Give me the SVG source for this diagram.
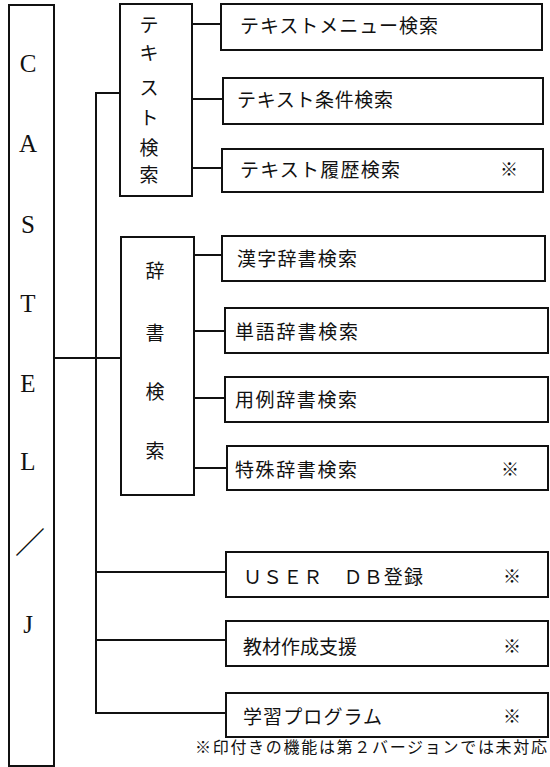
<svg xmlns="http://www.w3.org/2000/svg" width="550" height="767" viewBox="0 0 550 767">
<style>
rect{fill:#fff;stroke:#111;stroke-width:2}
.c line{stroke:#111;stroke-width:2}
.t{font-family:"Noto Sans CJK JP","Noto Sans CJK SC",sans-serif;font-size:19px;fill:#111;dominant-baseline:central}
.v{font-family:"Noto Sans CJK JP","Noto Sans CJK SC",sans-serif;font-size:19px;fill:#111;dominant-baseline:central;text-anchor:middle}
.L{font-family:"Liberation Serif",serif;font-size:25px;fill:#111;text-anchor:middle}
.m{font-family:"Noto Sans CJK JP",sans-serif;font-size:18px;fill:#111;dominant-baseline:central;text-anchor:middle}
.f{font-family:"Noto Sans CJK JP","Noto Sans CJK SC",sans-serif;font-size:16px;fill:#111;dominant-baseline:central}
</style>
<rect width="550" height="767" style="fill:#fff;stroke:none"/>
<g class="c" id="connectors">
<line x1="96" y1="92" x2="96" y2="714"/>
<line x1="95" y1="93" x2="120" y2="93"/>
<line x1="55" y1="358" x2="121" y2="358"/>
<line x1="95" y1="572" x2="226" y2="572"/>
<line x1="95" y1="640" x2="226" y2="640"/>
<line x1="95" y1="713" x2="226" y2="713"/>
<line x1="192" y1="24" x2="221" y2="24"/>
<line x1="192" y1="99" x2="223" y2="99"/>
<line x1="192" y1="168" x2="222" y2="168"/>
<line x1="194" y1="255" x2="222" y2="255"/>
<line x1="194" y1="331" x2="225" y2="331"/>
<line x1="194" y1="398" x2="225" y2="398"/>
<line x1="194" y1="468" x2="227" y2="468"/>
</g>
<g id="castel">
<rect x="9" y="5" width="45" height="761"/>
<text class="L" x="28" y="72">C</text>
<text class="L" x="28" y="152">A</text>
<text class="L" x="28" y="233">S</text>
<text class="L" x="28" y="312">T</text>
<text class="L" x="28" y="392">E</text>
<text class="L" x="28" y="470">L</text>
<text class="v" x="30" y="540" style="font-size:30px">／</text>
<text class="L" x="28" y="633">J</text>
</g>
<g id="text-search">
<rect x="120" y="4" width="72" height="192"/>
<text class="v" x="149" y="23">テ</text>
<text class="v" x="149" y="51">キ</text>
<text class="v" x="149" y="86">ス</text>
<text class="v" x="149" y="116">ト</text>
<text class="v" x="149" y="146">検</text>
<text class="v" x="149" y="173">索</text>
</g>
<g id="dict-search">
<rect x="121" y="237" width="73" height="258"/>
<text class="v" x="155" y="269">辞</text>
<text class="v" x="155" y="331">書</text>
<text class="v" x="155" y="390">検</text>
<text class="v" x="155" y="449">索</text>
</g>
<g id="n1"><rect x="221" y="4" width="321" height="46"/><text class="t" x="240" y="24" textLength="198">テキストメニュー検索</text></g>
<g id="n2"><rect x="223" y="78" width="320" height="46"/><text class="t" x="237" y="98" textLength="156">テキスト条件検索</text></g>
<g id="n3"><rect x="222" y="149" width="321" height="43"/><text class="t" x="240" y="168" textLength="160">テキスト履歴検索</text><text class="m" x="509" y="168">※</text></g>
<g id="n4"><rect x="222" y="236" width="323" height="45"/><text class="t" x="237" y="257" textLength="120">漢字辞書検索</text></g>
<g id="n5"><rect x="225" y="308" width="323" height="45"/><text class="t" x="235" y="330" textLength="123">単語辞書検索</text></g>
<g id="n6"><rect x="225" y="377" width="323" height="45"/><text class="t" x="235" y="398" textLength="122">用例辞書検索</text></g>
<g id="n7"><rect x="227" y="446" width="321" height="44"/><text class="t" x="235" y="468" textLength="122">特殊辞書検索</text><text class="m" x="510" y="468">※</text></g>
<g id="n8"><rect x="226" y="552" width="322" height="45"/><text class="t" x="243" y="575" textLength="180">ＵＳＥＲ　ＤＢ登録</text><text class="m" x="512" y="575">※</text></g>
<g id="n9"><rect x="226" y="621" width="322" height="45"/><text class="t" x="243" y="645" textLength="114">教材作成支援</text><text class="m" x="512" y="645">※</text></g>
<g id="n10"><rect x="226" y="693" width="322" height="44"/><text class="t" x="243" y="715" textLength="139">学習プログラム</text><text class="m" x="512" y="715">※</text></g>
<text class="f" x="195" y="746" textLength="352">※印付きの機能は第２バージョンでは未対応</text>
</svg>
